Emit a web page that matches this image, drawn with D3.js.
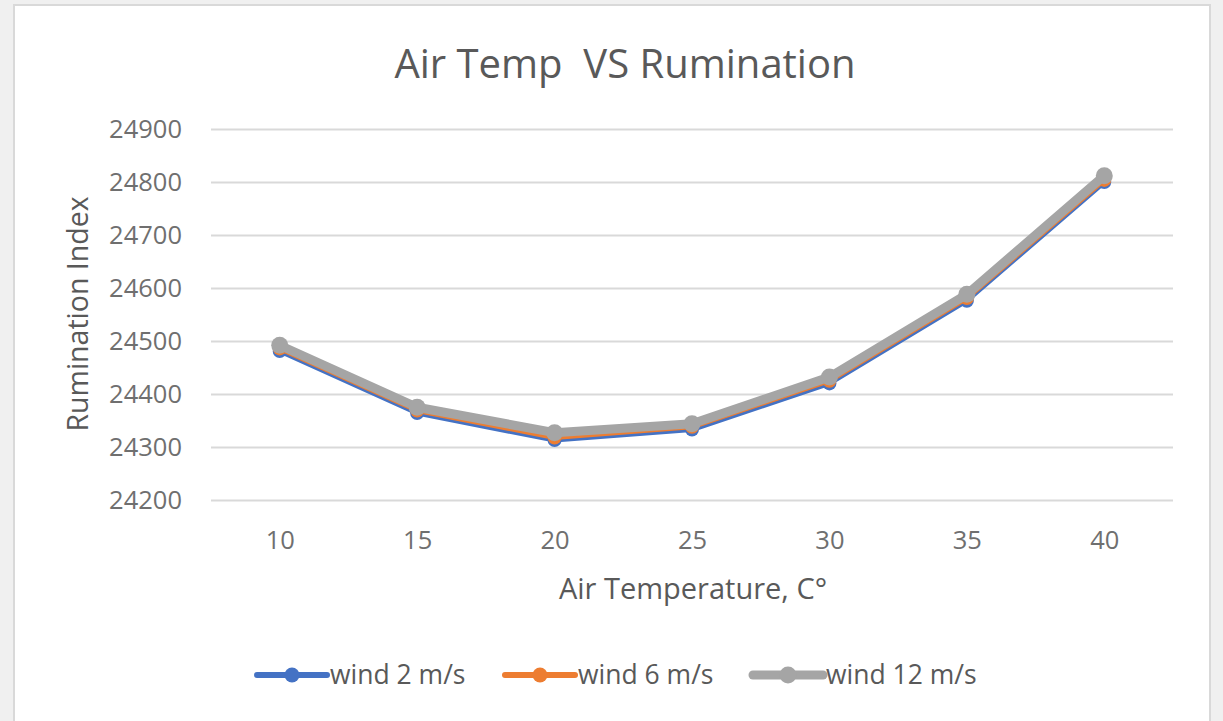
<!DOCTYPE html>
<html>
<head>
<meta charset="utf-8">
<script src="https://cdn.jsdelivr.net/npm/d3@7"></script>
<style>
  body { margin: 0; background: #f0f0f0; }
  svg { display: block; }
</style>
</head>
<body>
<svg id="chart" width="1223" height="721"></svg>
<script>
// chart data
const temps = [10, 15, 20, 25, 30, 35, 40];
const wind2 = [24481, 24364, 24313, 24333, 24420, 24576, 24800];
const wind6 = [24486, 24369, 24318, 24338, 24425, 24581, 24804];
const wind12 = [24492, 24375, 24327, 24344, 24432, 24588, 24812];
const yTicks = [24200, 24300, 24400, 24500, 24600, 24700, 24800, 24900];
const seriesNames = ["wind 2 m/s", "wind 6 m/s", "wind 12 m/s"];

const series = [
  { name: seriesNames[0], values: wind2, color: "#4472c4", width: 5, r: 7 },
  { name: seriesNames[1], values: wind6, color: "#ed7d31", width: 5, r: 7 },
  { name: seriesNames[2], values: wind12, color: "#a5a5a5", width: 9, r: 8.5 }
];

const svg = d3.select("#chart");
const font = "'Open Sans', 'Noto Sans', sans-serif";
const textColor = "#595959";
const tickColor = "#6f6f6f";

// white chart area
svg.append("rect")
  .attr("x", 14).attr("y", 5)
  .attr("width", 1196).attr("height", 730)
  .attr("fill", "#fff")
  .attr("stroke", "#d9d9d9")
  .attr("stroke-width", 2);

const plot = { left: 211, right: 1173, top: 129, bottom: 500 };

const x = d3.scalePoint()
  .domain(temps)
  .range([plot.left, plot.right])
  .padding(0.5);

const y = d3.scaleLinear()
  .domain([24200, 24900])
  .range([plot.bottom, plot.top]);

// gridlines
svg.append("g")
  .attr("transform", `translate(${plot.left},0)`)
  .call(d3.axisLeft(y).tickValues(yTicks).tickSize(-(plot.right - plot.left)).tickFormat(""))
  .call(g => g.select(".domain").remove())
  .call(g => g.selectAll("line").attr("stroke", "#d9d9d9").attr("stroke-width", 2));

// y tick labels
svg.append("g")
  .attr("transform", `translate(${plot.left},0)`)
  .call(d3.axisLeft(y).tickValues(yTicks).tickSize(0).tickPadding(29).tickFormat(d3.format("d")))
  .call(g => g.select(".domain").remove())
  .call(g => g.selectAll("text")
    .attr("font-family", font).attr("font-size", 25.5).attr("fill", tickColor));

// x tick labels
svg.append("g")
  .attr("transform", `translate(0,${plot.bottom})`)
  .call(d3.axisBottom(x).tickSize(0).tickPadding(31))
  .call(g => g.select(".domain").remove())
  .call(g => g.selectAll("text")
    .attr("font-family", font).attr("font-size", 25.5).attr("fill", tickColor));

// title
svg.append("text")
  .attr("x", 625).attr("y", 78)
  .attr("text-anchor", "middle")
  .attr("font-family", font).attr("font-size", 40)
  .attr("fill", textColor)
  .attr("xml:space", "preserve")
  .text("Air Temp  VS Rumination");

// axis titles
svg.append("text")
  .attr("x", 693).attr("y", 599)
  .attr("text-anchor", "middle")
  .attr("font-family", font).attr("font-size", 29)
  .attr("fill", textColor)
  .text("Air Temperature, C°");

svg.append("text")
  .attr("transform", "translate(88,314) rotate(-90)")
  .attr("text-anchor", "middle")
  .attr("font-family", font).attr("font-size", 28.5)
  .attr("fill", textColor)
  .text("Rumination Index");

// lines and markers
const line = d3.line()
  .x((d, i) => x(temps[i]))
  .y(d => y(d));

series.forEach(s => {
  const g = svg.append("g");
  g.append("path")
    .datum(s.values)
    .attr("d", line)
    .attr("fill", "none")
    .attr("stroke", s.color)
    .attr("stroke-width", s.width)
    .attr("stroke-linejoin", "round");
  g.selectAll("circle")
    .data(s.values)
    .join("circle")
    .attr("cx", (d, i) => x(temps[i]))
    .attr("cy", d => y(d))
    .attr("r", s.r)
    .attr("fill", s.color);
});

// legend
const legendX = [257, 505, 753];
const legend = svg.append("g");
series.forEach((s, i) => {
  const lg = legend.append("g").attr("transform", `translate(${legendX[i]},675)`);
  lg.append("line")
    .attr("x1", 0).attr("x2", 70)
    .attr("stroke", s.color)
    .attr("stroke-width", i === 2 ? 9 : 6)
    .attr("stroke-linecap", "round");
  lg.append("circle").attr("cx", 35).attr("r", i === 2 ? 8.5 : 7.5).attr("fill", s.color);
  lg.append("text")
    .attr("x", 73).attr("y", 9)
    .attr("font-family", font).attr("font-size", 26.5)
    .attr("fill", textColor)
    .text(s.name);
});
</script>
</body>
</html>
